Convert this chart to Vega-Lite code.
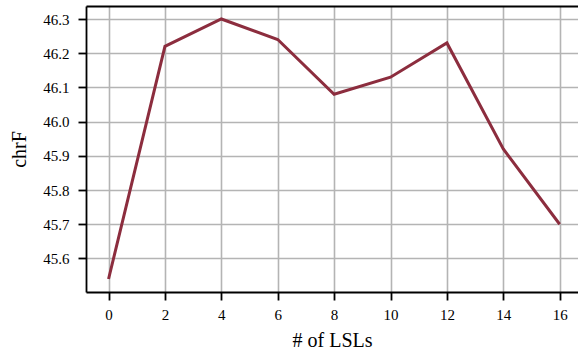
{
  "$schema": "https://vega.github.io/schema/vega-lite/v6.json",
  "autosize": "none",
  "width": 492,
  "height": 286,
  "padding": {"left": 86, "top": 6, "right": 0, "bottom": 59},
  "background": "white",
  "config": {
    "view": {"stroke": null},
    "font": "Liberation Serif",
    "axis": {
      "labelFont": "Liberation Serif",
      "titleFont": "Liberation Serif",
      "labelFontSize": 15,
      "titleFontSize": 20,
      "titleFontWeight": "normal",
      "labelColor": "black",
      "titleColor": "black",
      "domainColor": "black",
      "domainWidth": 1.8,
      "tickColor": "black",
      "tickWidth": 1.8,
      "tickSize": 8,
      "gridColor": "#b4b4b4",
      "gridWidth": 1.6,
      "gridOpacity": 1
    }
  },
  "data": {
    "values": [
      {"lsl": 0, "chrf": 45.54},
      {"lsl": 2, "chrf": 46.22},
      {"lsl": 4, "chrf": 46.30},
      {"lsl": 6, "chrf": 46.24},
      {"lsl": 8, "chrf": 46.08},
      {"lsl": 10, "chrf": 46.13},
      {"lsl": 12, "chrf": 46.23},
      {"lsl": 14, "chrf": 45.92},
      {"lsl": 16, "chrf": 45.70}
    ]
  },
  "layer": [
    {
      "mark": {"type": "line", "color": "#8c2d3e", "strokeWidth": 3},
      "encoding": {
        "x": {
          "field": "lsl",
          "type": "quantitative",
          "scale": {"domain": [-0.8, 16.65], "nice": false, "zero": false},
          "axis": {
            "orient": "bottom",
            "title": "# of LSLs",
            "values": [0, 2, 4, 6, 8, 10, 12, 14, 16],
            "labelFont": "Liberation Serif",
            "labelFontSize": 15,
            "titleFont": "Liberation Serif",
            "labelPadding": 7,
            "titlePadding": 8
          }
        },
        "y": {
          "field": "chrf",
          "type": "quantitative",
          "scale": {"domain": [45.502, 46.338], "nice": false, "zero": false},
          "axis": {
            "title": "chrF",
            "values": [45.6, 45.7, 45.8, 45.9, 46.0, 46.1, 46.2, 46.3],
            "format": ".1f",
            "labelFont": "Liberation Serif",
            "labelFontSize": 15,
            "titleFont": "Liberation Serif",
            "labelPadding": 9,
            "titlePadding": 13
          }
        }
      }
    },
    {
      "mark": {"type": "line", "opacity": 0},
      "encoding": {
        "x": {
          "field": "lsl",
          "type": "quantitative",
          "axis": {
            "orient": "top",
            "title": null,
            "labels": false,
            "ticks": false,
            "grid": false,
            "domain": true
          }
        },
        "y": {"field": "chrf", "type": "quantitative"}
      }
    }
  ],
  "resolve": {"axis": {"x": "independent"}}
}
